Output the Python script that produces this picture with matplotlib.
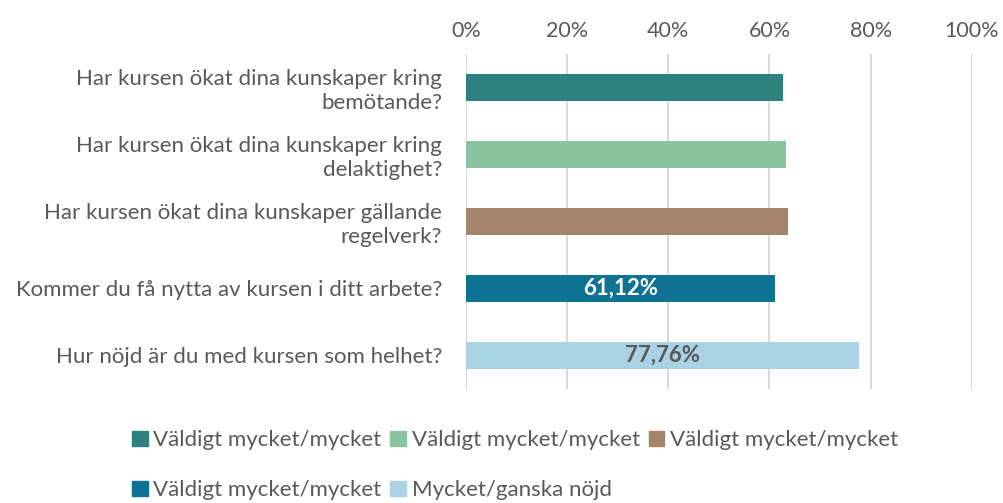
import matplotlib.pyplot as plt
from matplotlib.patches import Patch

plt.rcParams['font.family'] = ['Lato', 'DejaVu Sans']

questions = [
    "Har kursen ökat dina kunskaper kring\nbemötande?",
    "Har kursen ökat dina kunskaper kring\ndelaktighet?",
    "Har kursen ökat dina kunskaper gällande\nregelverk?",
    "Kommer du få nytta av kursen i ditt arbete?",
    "Hur nöjd är du med kursen som helhet?",
]
values = [62.6, 63.3, 63.6, 61.12, 77.76]
series_names = [
    "Väldigt mycket/mycket",
    "Väldigt mycket/mycket",
    "Väldigt mycket/mycket",
    "Väldigt mycket/mycket",
    "Mycket/ganska nöjd",
]
bar_labels = [None, None, None, "61,12%", "77,76%"]
colors = ["#2D827F", "#8AC3A0", "#A4846A", "#0E7392", "#A9D3E4"]
label_colors = [None, None, None, "white", "#595959"]
xticks = [0, 20, 40, 60, 80, 100]

text_gray = "#595959"

fig = plt.figure(figsize=(10.04, 5.03), dpi=100)
ax = fig.add_axes([0.464, 0.227, 0.504, 0.666])

ypos = list(range(len(questions)))
ax.barh(ypos, values, height=0.4, color=colors, zorder=3)
for y, v, lab, c in zip(ypos, values, bar_labels, label_colors):
    if lab:
        ax.text(v / 2, y, lab, ha="center", va="center", color=c,
                fontsize=16, fontweight="bold", zorder=4)

ax.set_xlim(0, 100)
ax.set_ylim(len(questions) - 0.5, -0.5)
ax.set_yticks(ypos)
ax.set_yticklabels(questions, fontsize=16, color=text_gray, linespacing=1.2)
ax.set_xticks(xticks)
ax.set_xticklabels([f"{t}%" for t in xticks], fontsize=15.5, color=text_gray)
ax.xaxis.tick_top()
ax.tick_params(axis="both", length=0)
ax.tick_params(axis="y", pad=17)
ax.tick_params(axis="x", pad=9)
for s in ax.spines.values():
    s.set_visible(False)
ax.grid(axis="x", color="#D9D9D9", linewidth=1.5, zorder=0)

order = [0, 3, 1, 4, 2]
handles = [Patch(color=colors[i], label=series_names[i]) for i in order]
leg = fig.legend(handles=handles, loc="center", bbox_to_anchor=(0.513, 0.075),
                 ncol=3, frameon=False, fontsize=16, labelcolor=text_gray,
                 handlelength=0.7, handleheight=0.7, handletextpad=0.25,
                 columnspacing=0.4, labelspacing=1.35)

fig.savefig("out.png", dpi=100)
